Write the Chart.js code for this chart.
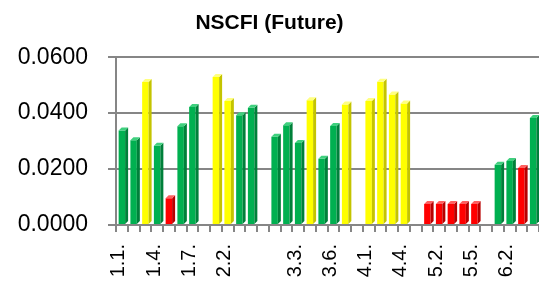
<!DOCTYPE html>
<html>
<head>
<meta charset="utf-8">
<script src="https://cdn.jsdelivr.net/npm/chart.js@4.4.1/dist/chart.umd.min.js"></script>
<style>
  html, body { margin: 0; padding: 0; background: #fff; overflow: hidden; }
</style>
</head>
<body>
<canvas id="canvas" width="539" height="282"></canvas>
<script>
// category labels (blank slots separate the groups)
const labels = ['1.1.','1.2.','1.3.','1.4.','1.5.','1.6.','1.7.','',
  '2.1.','2.2.','2.3.','2.4.','',
  '3.1.','3.2.','3.3.','3.4.','3.5.','3.6.','3.7.','',
  '4.1.','4.2.','4.3.','4.4.','',
  '5.1.','5.2.','5.3.','5.4.','5.5.','',
  '6.1.','6.2.','6.3.','6.4.'];

const values = [0.0338, 0.0303, 0.0511, 0.0283, 0.0096, 0.0353, 0.0422, null,
  0.0529, 0.0443, 0.0392, 0.0419, null,
  0.0316, 0.0357, 0.0293, 0.0446, 0.0237, 0.0354, 0.0431, null,
  0.0443, 0.0512, 0.0467, 0.0434, null,
  0.0075, 0.0075, 0.0075, 0.0075, 0.0075, null,
  0.0215, 0.0229, 0.0204, 0.0383];

// g = green, y = yellow, r = red
const status = ['g','g','y','g','r','g','g','',
  'y','y','g','g','',
  'g','g','g','y','g','g','y','',
  'y','y','y','y','',
  'r','r','r','r','r','',
  'g','g','r','g'];

const yTicks = [0, 0.02, 0.04, 0.06];

const palette = {
  g: { front: '#00B050', side: '#00803A', top: '#3FD07E' },
  y: { front: '#FFFF00', side: '#C4C400', top: '#FFFF80' },
  r: { front: '#FF0000', side: '#B80000', top: '#FF6060' },
  '': { front: '#000', side: '#000', top: '#000' }
};

// draws the side and top faces so the bars look like the Excel 3D columns
const bar3d = {
  id: 'bar3d',
  afterDatasetsDraw(chart) {
    const ctx = chart.ctx;
    const d = 3;
    chart.getDatasetMeta(0).data.forEach((bar, i) => {
      if (values[i] == null) return;
      const p = palette[status[i]];
      const w = bar.width / 2;
      ctx.save();
      ctx.fillStyle = p.side;
      ctx.beginPath();
      ctx.moveTo(bar.x + w, bar.y);
      ctx.lineTo(bar.x + w + d, bar.y - d);
      ctx.lineTo(bar.x + w + d, bar.base - d);
      ctx.lineTo(bar.x + w, bar.base);
      ctx.closePath();
      ctx.fill();
      ctx.fillStyle = p.top;
      ctx.beginPath();
      ctx.moveTo(bar.x - w, bar.y);
      ctx.lineTo(bar.x - w + d, bar.y - d);
      ctx.lineTo(bar.x + w + d, bar.y - d);
      ctx.lineTo(bar.x + w, bar.y);
      ctx.closePath();
      ctx.fill();
      ctx.restore();
    });
  }
};

new Chart(document.getElementById('canvas').getContext('2d'), {
  type: 'bar',
  data: {
    labels: labels,
    datasets: [{
      data: values,
      backgroundColor: status.map(s => palette[s].front),
      borderWidth: 0,
      barPercentage: 0.55,
      categoryPercentage: 1
    }]
  },
  options: {
    responsive: false,
    animation: false,
    devicePixelRatio: 1,
    layout: { padding: { left: 0, right: 0, top: 0, bottom: 0 } },
    plugins: {
      legend: { display: false },
      tooltip: { enabled: false },
      title: {
        display: true,
        text: 'NSCFI (Future)',
        color: '#000',
        font: { family: 'Liberation Sans', size: 21, weight: 'bold', lineHeight: 1.2 },
        padding: { top: 11, bottom: 21 }
      }
    },
    scales: {
      x: {
        offset: true,
        grid: {
          offset: true,
          drawOnChartArea: false,
          color: '#868686',
          lineWidth: 2,
          tickLength: 7
        },
        border: { display: true, color: '#868686', width: 2 },
        ticks: {
          autoSkip: false,
          maxRotation: 90,
          minRotation: 90,
          padding: 12,
          labelOffset: -3,
          color: '#000',
          font: { family: 'Liberation Sans', size: 20 },
          callback: (v, i) => (i % 3 === 0 ? labels[i] : '')
        },
        afterFit: s => {
          s.height = 57;
          s.paddingLeft = 0;
          s.paddingRight = 0;
        }
      },
      y: {
        min: 0,
        max: 0.06,
        afterBuildTicks: s => { s.ticks = yTicks.map(v => ({ value: v })); },
        grid: { color: '#868686', lineWidth: 2, tickLength: 8 },
        border: { display: true, color: '#868686', width: 2 },
        ticks: {
          padding: 20,
          color: '#000',
          font: { family: 'Liberation Sans', size: 23 },
          callback: v => v.toFixed(4)
        },
        afterFit: s => {
          s.width = 116;
          s.paddingTop = 0;
          s.paddingBottom = 0;
        }
      }
    }
  },
  plugins: [bar3d]
});
</script>
</body>
</html>
